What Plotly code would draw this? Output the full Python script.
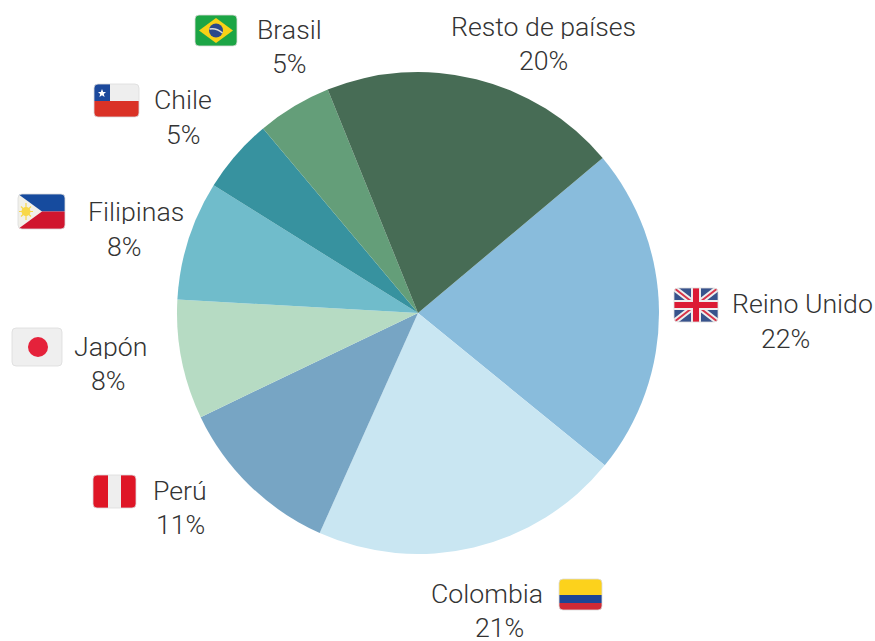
import base64
import plotly.graph_objects as go

W, H = 875, 641
categories = ["Reino Unido", "Colombia", "Perú", "Japón", "Filipinas", "Chile", "Brasil", "Resto de países"]
values = [22, 20.8, 11.2, 8, 8, 5, 5, 20]
percent_labels = ["22%", "21%", "11%", "8%", "8%", "5%", "5%", "20%"]
colors = ["#89bcdc", "#c9e6f2", "#77a5c4", "#b6dbc3", "#70bccb", "#37929f", "#649e79", "#476c55"]

# label centres in page pixels: name (x, y), percentage (x, y)
label_pos = {
    "Reino Unido": ((802.5, 304), (785, 339)),
    "Colombia": ((487, 594), (499, 628)),
    "Perú": ((180, 491), (180, 525)),
    "Japón": ((110, 347), (108, 381)),
    "Filipinas": ((136, 212), (124, 247)),
    "Chile": ((183, 100), (183, 135)),
    "Brasil": ((289, 30), (289, 64)),
    "Resto de países": ((543.5, 27), (543, 61)),
}

def svg(w, h, body):
    frame = (f'M-3 -3H{w+3}V{h+3}H-3Z '
             f'M4 0H{w-4}Q{w} 0 {w} 4V{h-4}Q{w} {h} {w-4} {h}H4Q0 {h} 0 {h-4}V4Q0 0 4 0Z')
    s = (f'<svg xmlns="http://www.w3.org/2000/svg" viewBox="-2 -2 {w+4} {h+4}" preserveAspectRatio="none">'
         f'<defs><filter id="b" x="-10%" y="-10%" width="120%" height="120%"><feGaussianBlur stdDeviation="0.55"/></filter></defs>'
         f'<g filter="url(#b)">{body}'
         f'<path d="{frame}" fill="#ffffff" fill-rule="evenodd"/>'
         f'<rect x="0" y="0" width="{w}" height="{h}" rx="4" ry="4" fill="none" stroke="#dcdcdc" stroke-width="0.8"/></g></svg>')
    return "data:image/svg+xml;base64," + base64.b64encode(s.encode()).decode()

flags = {
    "Brasil": ((195, 15, 42, 31), svg(42, 31,
        '<rect width="42" height="31" fill="#1fa544"/>'
        '<polygon points="21,3 38,15.5 21,28 4,15.5" fill="#f8d117"/>'
        '<circle cx="21" cy="15.5" r="7" fill="#2b4a8b"/>'
        '<path d="M14.5 14 Q21 12.5 27.5 18" stroke="#dddddd" stroke-width="1.4" fill="none"/>')),
    "Chile": ((94, 84, 45, 33), svg(45, 33,
        '<rect width="45" height="17" fill="#eeeeee"/>'
        '<rect y="17" width="45" height="16" fill="#da3128"/>'
        '<rect width="16" height="17" fill="#1f4a9c"/>'
        '<polygon points="8,5 9.2,8 12,8 9.8,10 10.6,13 8,11.3 5.4,13 6.2,10 4,8 6.8,8" fill="#ffffff"/>')),
    "Filipinas": ((18, 194, 47, 35), svg(47, 35,
        '<rect width="47" height="17.5" fill="#184b9e"/>'
        '<rect y="17.5" width="47" height="17.5" fill="#d0122f"/>'
        '<polygon points="0,0 24,17.5 0,35" fill="#f1f0ea"/>'
        '<circle cx="8" cy="17.5" r="4.5" fill="#f8d84a"/>'
        '<path d="M8 9V26M1 17.5H15M3 12.5L13 22.5M3 22.5L13 12.5" stroke="#f8d84a" stroke-width="1.2"/>')),
    "Japón": ((12, 328, 50, 38), svg(50, 38,
        '<rect width="50" height="38" fill="#efefef"/>'
        '<circle cx="26" cy="19" r="10" fill="#e5203a"/>')),
    "Perú": ((93, 475, 43, 33), svg(43, 33,
        '<rect width="43" height="33" fill="#eeeeee"/>'
        '<rect width="15" height="33" fill="#df1528"/>'
        '<rect x="28" width="15" height="33" fill="#df1528"/>')),
    "Reino Unido": ((674, 288, 44, 34), svg(44, 34,
        '<rect width="44" height="34" fill="#39528c"/>'
        '<path d="M0 0L44 34M44 0L0 34" stroke="#eeeeee" stroke-width="6"/>'
        '<path d="M0 0L44 34M44 0L0 34" stroke="#d9344a" stroke-width="2"/>'
        '<path d="M22 0V34M0 17H44" stroke="#eeeeee" stroke-width="10"/>'
        '<path d="M22 0V34M0 17H44" stroke="#dc1f35" stroke-width="6"/>')),
    "Colombia": ((559, 579, 43, 31), svg(43, 31,
        '<rect width="43" height="16" fill="#fcd21c"/>'
        '<rect y="16" width="43" height="8" fill="#1f4594"/>'
        '<rect y="24" width="43" height="7" fill="#cf2a36"/>')),
}

CX, CY, R = 418, 313, 241

fig = go.Figure(go.Pie(
    labels=categories,
    values=values,
    sort=False,
    direction="clockwise",
    rotation=50,
    textinfo="none",
    hoverinfo="label",
    marker=dict(colors=colors, line=dict(width=0)),
    domain=dict(x=[(CX - R) / W, (CX + R) / W], y=[1 - (CY + R) / H, 1 - (CY - R) / H]),
    showlegend=False,
))

font = dict(family="Roboto", size=26.7, color="#333333", weight=300)
annotations = []
for cat, pct in zip(categories, percent_labels):
    (nx, ny), (px, py) = label_pos[cat]
    for text, x, y in ((cat, nx, ny), (pct, px, py)):
        annotations.append(dict(text=text, x=x / W, y=1 - y / H, xref="paper", yref="paper",
                                xanchor="center", yanchor="middle", showarrow=False, font=font,
                                height=24))

images = [dict(source=src, xref="paper", yref="paper", x=(x - 2) / W, y=1 - (y - 2) / H,
               sizex=(w + 4) / W, sizey=(h + 4) / H, xanchor="left", yanchor="top", sizing="stretch", layer="above")
          for (x, y, w, h), src in flags.values()]

fig.update_layout(width=W, height=H, autosize=False, margin=dict(l=0, r=0, t=0, b=0),
                  paper_bgcolor="white", annotations=annotations, images=images)
fig.write_html("out.html", config=dict(displayModeBar=False),
               post_script="document.body.style.margin='0';document.body.style.overflow='hidden';")
